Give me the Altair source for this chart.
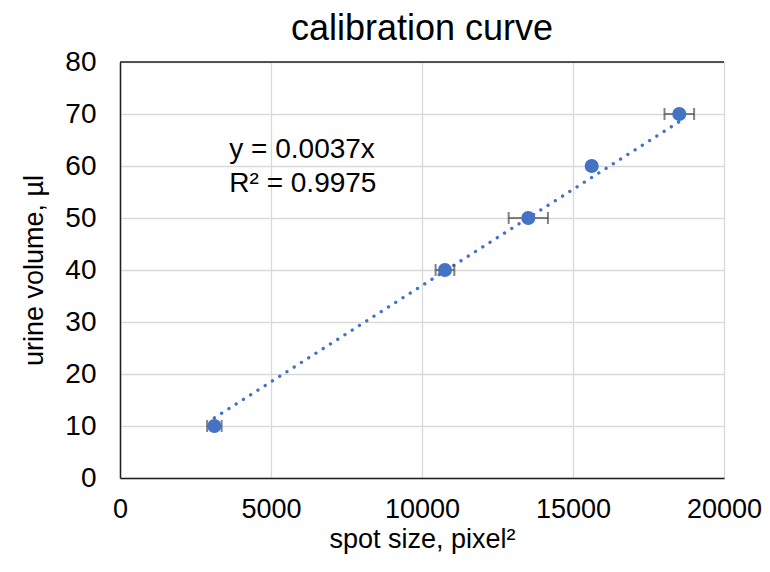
import altair as alt
import pandas as pd

spot_size = [3125, 10760, 13520, 15620, 18520]
volume = [10, 40, 50, 60, 70]
spot_err = [240, 310, 650, 0, 490]
trend_x = [3125, 18520]
slope = 0.0037
eq_lines = ["y = 0.0037x", "R² = 0.9975"]
eq_y = [63.0, 56.6]
eq_x = 3620

df = pd.DataFrame({"x": spot_size, "y": volume, "err": spot_err})
df["lo"] = df["x"] - df["err"]
df["hi"] = df["x"] + df["err"]
trend = pd.DataFrame({"x": trend_x, "y": [slope * v for v in trend_x]})
eq = pd.DataFrame({"x": [eq_x] * 2, "y": eq_y, "t": eq_lines})

FONT = "Liberation Sans"
EDGE = "#1f1f1f"
xs = alt.Scale(domain=[0, 20000], nice=False)
ys = alt.Scale(domain=[0, 80], nice=False)
xax = alt.Axis(values=[0, 5000, 10000, 15000, 20000], title="spot size, pixel²", format="d",
               grid=True, gridColor="#d9d9d9", gridWidth=1.3,
               domain=True, domainColor=EDGE, domainWidth=1.5, ticks=False,
               labelFlush=False, labelOverlap=False,
               labelFontSize=27, labelPadding=18, titleFontSize=27, titlePadding=4,
               labelFont=FONT, titleFont=FONT, labelColor="#000", titleColor="#000", titleFontWeight="normal")
yax = alt.Axis(values=list(range(0, 81, 10)), title="urine volume, µl",
               grid=True, gridColor="#d9d9d9", gridWidth=1.3,
               domain=True, domainColor=EDGE, domainWidth=1.5, ticks=False,
               labelFlush=False, labelOverlap=False,
               labelFontSize=28, labelPadding=24, titleFontSize=27, titlePadding=16,
               labelFont=FONT, titleFont=FONT, labelColor="#000", titleColor="#000", titleFontWeight="normal")

base = alt.Chart(df)
trend_line = alt.Chart(trend).mark_line(color="#4472C4", strokeWidth=3.3, strokeDash=[0.1, 8.5], strokeCap="round").encode(
    x=alt.X("x:Q", scale=xs, axis=xax), y=alt.Y("y:Q", scale=ys, axis=yax))
top_edge = alt.Chart(pd.DataFrame({"a": [0]})).mark_rule(color=EDGE, strokeWidth=1.5).encode(
    x=alt.datum(0, scale=xs), x2=alt.datum(20000), y=alt.datum(80, scale=ys))
rules = base.mark_rule(color="#595959", strokeWidth=1.5).encode(
    x=alt.X("lo:Q", scale=xs), x2="hi:Q", y=alt.Y("y:Q", scale=ys))
cap_lo = base.mark_tick(color="#4d4d4d", thickness=2, size=12, orient="vertical").encode(
    x=alt.X("lo:Q", scale=xs), y=alt.Y("y:Q", scale=ys))
cap_hi = base.mark_tick(color="#4d4d4d", thickness=2, size=12, orient="vertical").encode(
    x=alt.X("hi:Q", scale=xs), y=alt.Y("y:Q", scale=ys))
points = base.mark_circle(color="#4472C4", opacity=1, size=200).encode(
    x=alt.X("x:Q", scale=xs), y=alt.Y("y:Q", scale=ys))
text = alt.Chart(eq).mark_text(align="left", baseline="middle", font=FONT, fontSize=28, color="#000").encode(
    x=alt.X("x:Q", scale=xs), y=alt.Y("y:Q", scale=ys), text="t:N")

chart = alt.layer(trend_line, top_edge, rules, cap_lo, cap_hi, points, text).properties(
    width=604, height=416,
    title=alt.TitleParams("calibration curve", font=FONT, fontSize=36, fontWeight="normal", color="#000", offset=0),
    autosize=alt.AutoSizeParams(type="none"),
    padding={"left": 112, "top": 54, "right": 38, "bottom": 76},
).configure_view(stroke=None).configure(background="white")

chart.save("out.html", embed_options={"renderer": "svg", "actions": False})
